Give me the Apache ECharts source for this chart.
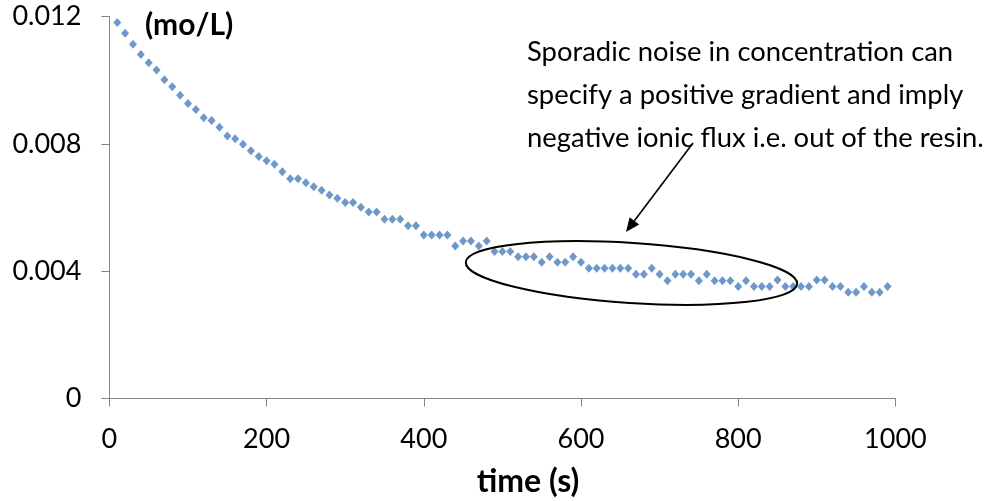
<!DOCTYPE html>
<html>
<head>
<meta charset="utf-8">
<script src="https://cdn.jsdelivr.net/npm/echarts@6/dist/echarts.min.js"></script>
<style>
html,body{margin:0;padding:0;background:#fff;}
#chart{width:986px;height:501px;}
</style>
</head>
<body>
<div id="chart"></div>
<script>
// time (s)
var times = [10,20,30,40,50,60,70,80,90,100,110,120,130,140,150,160,170,180,190,200,
  210,220,230,240,250,260,270,280,290,300,310,320,330,340,350,360,370,380,390,400,
  410,420,430,440,450,460,470,480,490,500,510,520,530,540,550,560,570,580,590,600,
  610,620,630,640,650,660,670,680,690,700,710,720,730,740,750,760,770,780,790,800,
  810,820,830,840,850,860,870,880,890,900,910,920,930,940,950,960,970,980,990];
// concentration (mol/L)
var conc = [0.01181,0.01147,0.01113,0.01081,0.01055,0.01032,0.01001,0.00979,0.00953,0.00927,
  0.00908,0.00882,0.00873,0.00852,0.00825,0.00816,0.00799,0.00778,0.00760,0.00747,
  0.00736,0.00712,0.00690,0.00690,0.00678,0.00665,0.00654,0.00639,0.00629,0.00616,
  0.00616,0.00601,0.00586,0.00586,0.00563,0.00563,0.00563,0.00543,0.00543,0.00514,
  0.00514,0.00514,0.00514,0.00479,0.00495,0.00495,0.00479,0.00495,0.00462,0.00462,
  0.00462,0.00445,0.00445,0.00445,0.00428,0.00445,0.00428,0.00428,0.00445,0.00428,
  0.00409,0.00409,0.00409,0.00409,0.00409,0.00409,0.00390,0.00390,0.00409,0.00390,
  0.00370,0.00390,0.00390,0.00390,0.00370,0.00390,0.00370,0.00370,0.00370,0.00352,
  0.00370,0.00352,0.00352,0.00352,0.00372,0.00352,0.00352,0.00352,0.00352,0.00372,
  0.00372,0.00352,0.00352,0.00334,0.00334,0.00352,0.00334,0.00334,0.00352];
var xTicks = [0,200,400,600,800,1000];
var yTicks = [0,0.004,0.008,0.012];
var yUnit = '(mo/L)';
var xTitle = 'time (s)';
var noteLines = ['Sporadic noise in concentration can',
                 'specify a positive gradient and imply',
                 'negative ionic flux i.e. out of the resin.'];

var pts = times.map(function(t,i){return [t, conc[i]];});
var FONT = 'Lato';
var chart = echarts.init(document.getElementById('chart'), null, {renderer:'canvas'});

// arrow geometry (annotation)
var tail = [693, 143], tip = [626, 232];
var dx = tip[0]-tail[0], dy = tip[1]-tail[1], L = Math.sqrt(dx*dx+dy*dy);
var ux = dx/L, uy = dy/L, hl = 14, hw = 6;
var bx = tip[0]-hl*ux, by = tip[1]-hl*uy;

var graphics = [
  {type:'text', x:145, y:25, style:{text:yUnit, font:'bold 30px '+FONT, fill:'#000', align:'left', verticalAlign:'middle'}},
  {type:'text', x:528, y:482, style:{text:xTitle, font:'bold 32px '+FONT, fill:'#000', align:'center', verticalAlign:'middle'}},
  {type:'ellipse', x:631.5, y:273, rotation:-0.065, shape:{cx:0, cy:0, rx:166, ry:30},
    style:{fill:'none', stroke:'#000', lineWidth:2}, z:10},
  {type:'line', shape:{x1:tail[0], y1:tail[1], x2:bx, y2:by}, style:{stroke:'#000', lineWidth:1.6}, z:10},
  {type:'polygon', shape:{points:[[tip[0],tip[1]],[bx+hw*(-uy), by+hw*ux],[bx-hw*(-uy), by-hw*ux]]},
    style:{fill:'#000'}, z:10}
];
noteLines.forEach(function(s,i){
  graphics.push({type:'text', x:527, y:52+43*i, style:{text:s, font:'27.4px '+FONT, fill:'#000', align:'left', verticalAlign:'middle'}, z:10});
});

chart.setOption({
  animation:false,
  backgroundColor:'#fff',
  grid:{left:109.4, right:90.6, top:16.5, bottom:102.5, containLabel:false},
  xAxis:{
    type:'value', min:xTicks[0], max:xTicks[xTicks.length-1], interval:200,
    axisLine:{show:true, lineStyle:{color:'#868686', width:1}},
    axisTick:{show:true, length:8, lineStyle:{color:'#868686'}},
    splitLine:{show:false},
    axisLabel:{margin:27, color:'#000', fontFamily:FONT, fontSize:27,
      formatter:function(v){return xTicks.indexOf(v)>=0 ? String(v) : '';}}
  },
  yAxis:{
    type:'value', min:yTicks[0], max:yTicks[yTicks.length-1], interval:0.004,
    axisLine:{show:true, lineStyle:{color:'#868686', width:1}},
    axisTick:{show:true, length:8, lineStyle:{color:'#868686'}},
    splitLine:{show:false},
    axisLabel:{margin:28, color:'#000', fontFamily:FONT, fontSize:27,
      formatter:function(v){var s=String(+v.toFixed(3)); return s;}}
  },
  series:[{
    type:'scatter', data:pts, symbol:'diamond', symbolSize:[8,9],
    itemStyle:{color:'#4a7ebb'}, z:5
  }],
  graphic:graphics
});
</script>
</body>
</html>
